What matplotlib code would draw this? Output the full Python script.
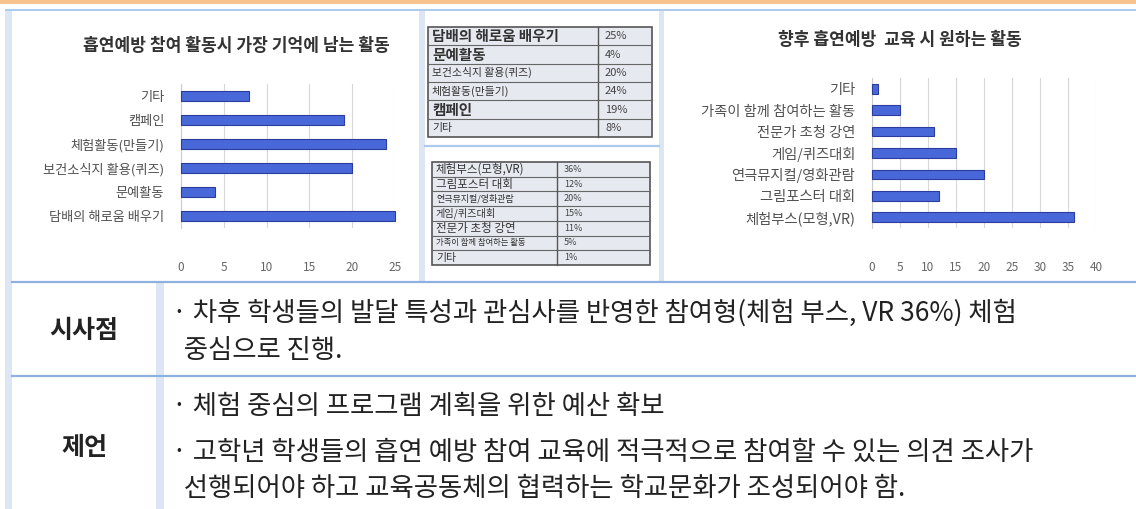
import matplotlib
matplotlib.use('Agg')
import matplotlib.pyplot as plt
from matplotlib.patches import Rectangle

plt.rcParams['font.family'] = ['Noto Sans CJK KR', 'DejaVu Sans']

# survey results (%)
memory_labels = ['담배의 해로움 배우기', '문예활동', '보건소식지 활용(퀴즈)',
                 '체험활동(만들기)', '캠페인', '기타']
memory_values = [25, 4, 20, 24, 19, 8]
memory_title = '흡연예방 참여 활동시 가장 기억에 남는 활동'

wish_labels = ['체험부스(모형,VR)', '그림포스터 대회', '연극뮤지컬/영화관람',
               '게임/퀴즈대회', '전문가 초청 강연', '가족이 함께 참여하는 활동', '기타']
wish_values = [36, 12, 20, 15, 11, 5, 1]
wish_title = '향후 흡연예방  교육 시 원하는 활동'

memory_ticks = [0, 5, 10, 15, 20, 25]
wish_ticks = [0, 5, 10, 15, 20, 25, 30, 35, 40]

row_heads = ['시사점', '제언']
implication_lines = ['· 차후 학생들의 발달 특성과 관심사를 반영한 참여형(체험 부스, VR 36%) 체험',
                     '  중심으로 진행.']
proposal_lines = ['· 체험 중심의 프로그램 계획을 위한 예산 확보',
                  '· 고학년 학생들의 흡연 예방 참여 교육에 적극적으로 참여할 수 있는 의견 조사가',
                  '  선행되어야 하고 교육공동체의 협력하는 학교문화가 조성되어야 함.']

W, H = 1136, 509
fig = plt.figure(figsize=(W / 100, H / 100), dpi=100)

bg = fig.add_axes([0, 0, 1, 1])
bg.set_xlim(0, W)
bg.set_ylim(H, 0)
bg.axis('off')


def px_axes(x0, y0, x1, y1):
    return fig.add_axes([x0 / W, 1 - y1 / H, (x1 - x0) / W, (y1 - y0) / H])


# page frame
pale = '#DCE6F5'
line_blue = '#8DB0E0'
bg.add_patch(Rectangle((0, 0), W, 4, color='#F6C48C', lw=0))
bg.add_patch(Rectangle((5, 9), W - 5, 2, color='#AECAEC', lw=0))
bg.add_patch(Rectangle((5, 11), 7, H - 11, color=pale, lw=0))
bg.add_patch(Rectangle((419, 11), 6, 271, color=pale, lw=0))
bg.add_patch(Rectangle((659, 11), 5, 271, color=pale, lw=0))
bg.add_patch(Rectangle((156, 283), 8, H - 283, color=pale, lw=0))
bg.plot([12, W], [282, 282], color=line_blue, lw=1.6)
bg.plot([12, W], [376, 376], color=line_blue, lw=1.6)
bg.plot([425, 659], [146, 146], color='#AECAEC', lw=1.6)


def bar_chart(ax, labels, values, ticks, title, title_xy, label_size):
    y = range(len(values))
    ax.barh(y, values, height=0.45, color='#4868DA', edgecolor='#2C3C9C',
            lw=0.8, clip_on=False, zorder=3)
    ax.set_xlim(ticks[0], ticks[-1])
    ax.set_ylim(-0.5, len(values) - 0.5)
    ax.set_yticks(list(y))
    ax.set_yticklabels(labels, fontsize=label_size, color='#505050')
    ax.set_xticks(ticks)
    ax.set_xticklabels([str(t) for t in ticks], fontsize=8.5, color='#666666')
    ax.tick_params(axis='x', length=0, pad=24)
    ax.tick_params(axis='y', length=0, pad=12)
    ax.grid(axis='x', color='#D8D8D8', lw=0.8, zorder=0)
    for s in ['top', 'right', 'bottom']:
        ax.spines[s].set_visible(False)
    ax.spines['left'].set_color('#CCCCCC')
    ax.set_facecolor('none')
    bg.text(title_xy[0], title_xy[1], title, fontsize=12.3, fontweight='bold',
            color='#333333', ha='center', va='center')


ax1 = px_axes(181, 84, 395, 228)
bar_chart(ax1, memory_labels, memory_values, memory_ticks, memory_title,
          (236, 46), 9.5)

ax2 = px_axes(872, 78, 1096, 228)
bar_chart(ax2, wish_labels, wish_values, wish_ticks, wish_title,
          (900, 40), 10.3)


def data_table(x0, x1, xdiv, y0, y1, labels, values, sizes, pct_size):
    n = len(labels)
    rh = (y1 - y0) / n
    bg.add_patch(Rectangle((x0, y0), x1 - x0, y1 - y0, facecolor='#E7E9F1',
                           edgecolor='#555555', lw=1.2))
    for i in range(1, n):
        bg.plot([x0, x1], [y0 + i * rh] * 2, color='#666666', lw=0.8)
    bg.plot([xdiv, xdiv], [y0, y1], color='#555555', lw=1.0)
    for i, (lab, v) in enumerate(zip(labels, values)):
        yc = y0 + (i + 0.5) * rh
        bg.text(x0 + 4, yc, lab, fontsize=sizes[i], color='#333333',
                ha='left', va='center',
                fontweight='bold' if sizes[i] > 9 else 'normal')
        bg.text(xdiv + 7, yc, '%d%%' % v, fontsize=pct_size, color='#444444',
                ha='left', va='center')


data_table(428, 652, 598, 27, 137, memory_labels, memory_values,
           [10.5, 10.5, 7.8, 7.8, 10.5, 7.8], 8)
data_table(432, 650, 557, 162, 265, wish_labels, wish_values,
           [8.3, 8.3, 6.5, 7.3, 8.3, 6, 7.8], 6.5)

# findings / proposals
body = 19
bg.text(84, 331, row_heads[0], fontsize=18, fontweight='bold', color='#222222',
        ha='center', va='center')
bg.text(84, 448, row_heads[1], fontsize=18, fontweight='bold', color='#222222',
        ha='center', va='center')
for txt, yy in zip(implication_lines, [313, 350]):
    bg.text(172, yy, txt, fontsize=body, color='#222222', ha='left', va='center')
for txt, yy in zip(proposal_lines, [407, 452, 488]):
    bg.text(172, yy, txt, fontsize=body, color='#222222', ha='left', va='center')

fig.savefig('out.png', dpi=100)
